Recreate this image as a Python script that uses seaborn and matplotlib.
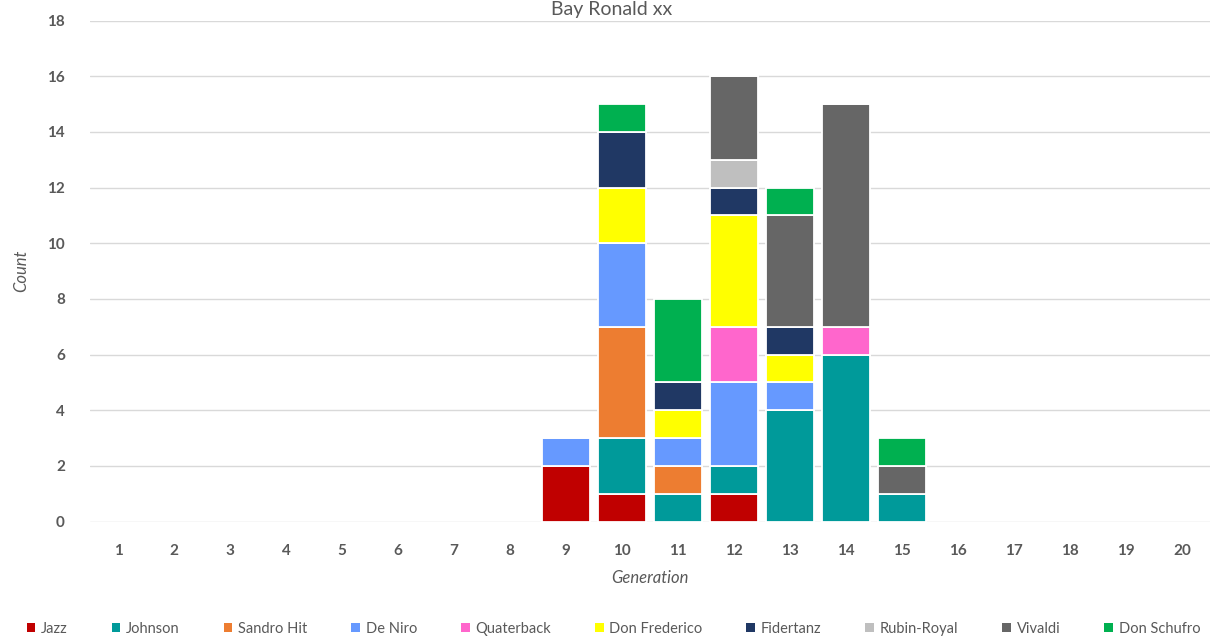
import pandas as pd
import matplotlib.pyplot as plt
import seaborn as sns
from matplotlib.patches import Patch

# Horses (bottom to top in each stack) and their colours
sires = ["Jazz", "Johnson", "Sandro Hit", "De Niro", "Quaterback",
         "Don Frederico", "Fidertanz", "Rubin-Royal", "Vivaldi", "Don Schufro"]
colors = ["#C00000", "#009A9A", "#ED7D31", "#6699FF", "#FF66CC",
          "#FFFF00", "#203864", "#BFBFBF", "#666666", "#00B050"]

generations = list(range(1, 21))

# counts per generation 9..15 for each sire
gen_with_data = [9, 10, 11, 12, 13, 14, 15]
jazz = [2, 1, 0, 1, 0, 0, 0]
johnson = [0, 2, 1, 1, 4, 6, 1]
sandro_hit = [0, 4, 1, 0, 0, 0, 0]
de_niro = [1, 3, 1, 3, 1, 0, 0]
quaterback = [0, 0, 0, 2, 0, 1, 0]
don_frederico = [0, 2, 1, 4, 1, 0, 0]
fidertanz = [0, 2, 1, 1, 1, 0, 0]
rubin_royal = [0, 0, 0, 1, 0, 0, 0]
vivaldi = [0, 0, 0, 3, 4, 8, 1]
don_schufro = [0, 1, 3, 0, 1, 0, 1]

series = [jazz, johnson, sandro_hit, de_niro, quaterback,
          don_frederico, fidertanz, rubin_royal, vivaldi, don_schufro]

rows = []
for name, vals in zip(sires, series):
    for g, v in zip(gen_with_data, vals):
        if v > 0:
            rows.append({"Generation": g, "Sire": name, "Count": v})
df = pd.DataFrame(rows)

sns.set_style("white")
plt.rcParams["font.family"] = ["Lato", "DejaVu Sans"]

fig = plt.figure(figsize=(12.15, 6.41), dpi=100)
ax = fig.add_axes([90 / 1215, 119.5 / 641, 1120 / 1215, 501 / 641])

# seaborn stacks the last hue level at the bottom, so reverse the order
sns.histplot(data=df, x="Generation", weights="Count", hue="Sire",
             hue_order=sires[::-1], palette=colors[::-1],
             multiple="stack", discrete=True, shrink=0.87,
             alpha=1, edgecolor="white", linewidth=1.3,
             legend=False, ax=ax)

ax.set_xlim(0.5, 20.5)
ax.set_ylim(0, 18)
ax.set_xticks(generations)
ax.set_yticks(range(0, 19, 2))
ax.yaxis.grid(True, color="#D9D9D9", linewidth=1)
ax.set_axisbelow(True)
for s in ax.spines.values():
    s.set_visible(False)
ax.tick_params(axis="both", length=0, labelsize=11, labelcolor="#595959")
ax.tick_params(axis="y", pad=18)
ax.tick_params(axis="x", pad=16)
for lbl in ax.get_xticklabels() + ax.get_yticklabels():
    lbl.set_fontweight("bold")

ax.set_xlabel("Generation", fontsize=12, style="italic", color="#595959", labelpad=9)
ax.set_ylabel("Count", fontsize=12, style="italic", color="#595959", labelpad=13)

fig.text(612 / 1215, 1 - 1 / 641, "Bay Ronald xx", ha="center", va="top",
         fontsize=14, color="#595959")

handles = [Patch(facecolor=c, edgecolor="none") for c in colors]
fig.legend(handles, sires, loc="lower center", bbox_to_anchor=(0.505, -0.012),
           ncol=10, frameon=False, fontsize=10.5, handlelength=0.6, handleheight=0.6,
           handletextpad=0.4, columnspacing=3.0, labelcolor="#595959")

fig.savefig("out.png", dpi=100)
